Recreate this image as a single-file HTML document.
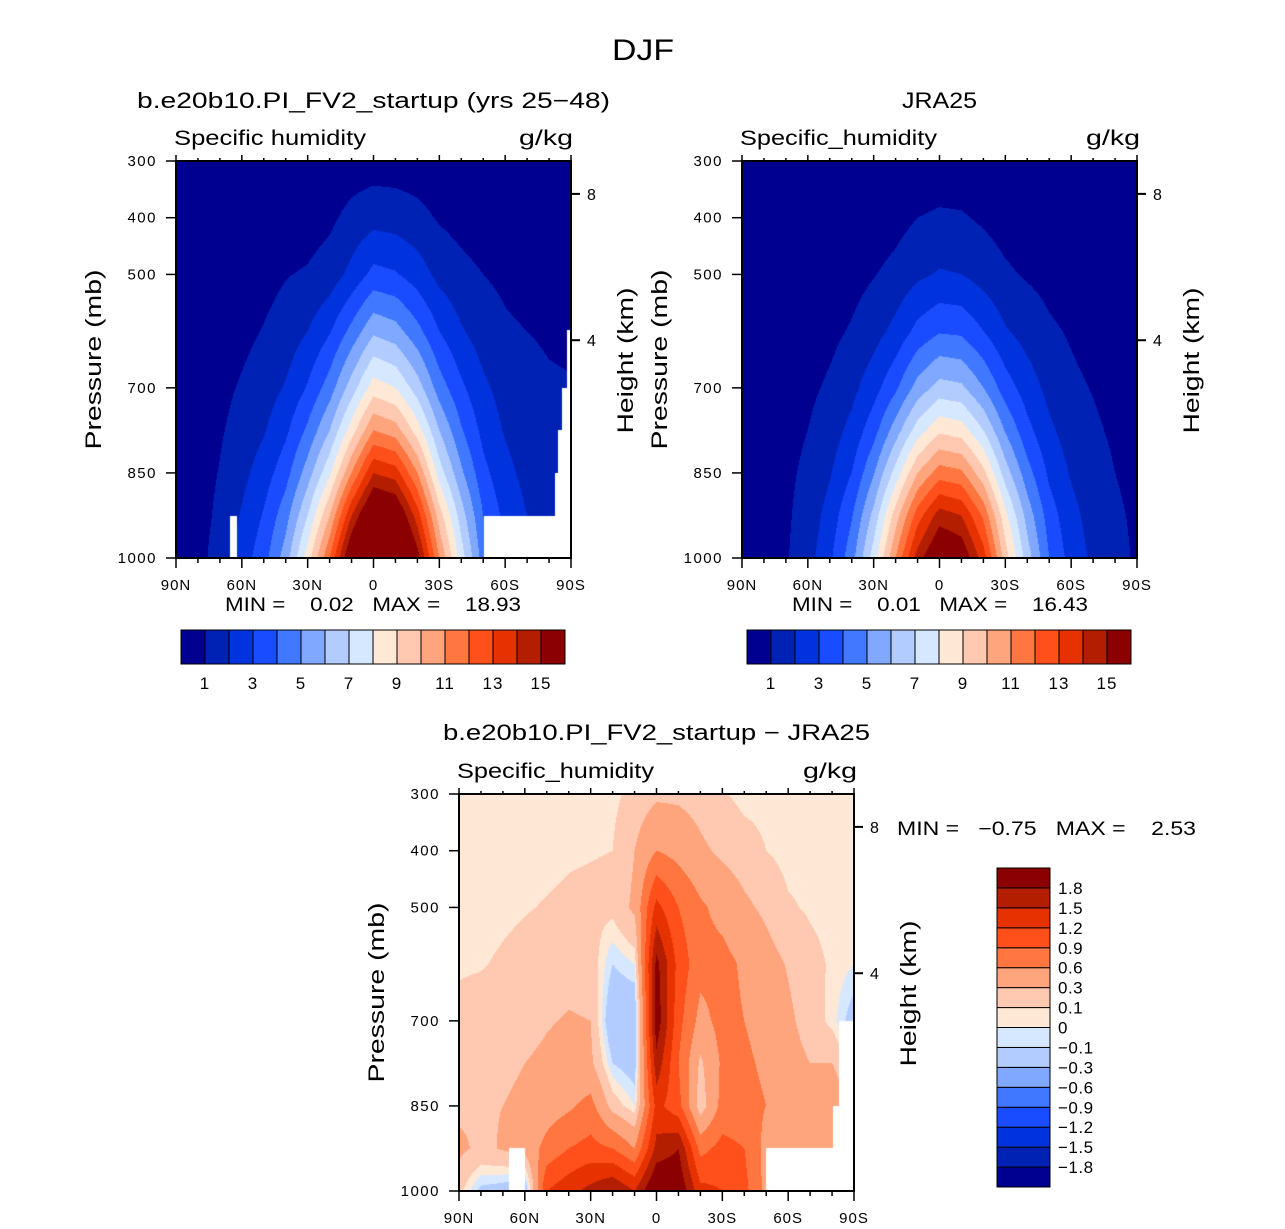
<!DOCTYPE html>
<html><head><meta charset="utf-8">
<style>
html,body{margin:0;padding:0;background:#fff;}
#wrap{position:relative;width:1285px;height:1229px;overflow:hidden;font-family:"Liberation Sans",sans-serif;}
canvas{position:absolute;}
svg{position:absolute;left:0;top:0;}
text{font-family:"Liberation Sans",sans-serif;fill:#000;}
</style></head>
<body>
<div id="wrap">
<canvas id="c1" width="395" height="397" style="left:176px;top:161px"></canvas>
<canvas id="c2" width="395" height="397" style="left:742px;top:161px"></canvas>
<canvas id="c3" width="395" height="397" style="left:459px;top:794px"></canvas>
<svg id="s" width="1285" height="1229">
<text x="612" y="60" font-size="30" textLength="62" lengthAdjust="spacingAndGlyphs">DJF</text>
<text x="137" y="108" font-size="22" textLength="473" lengthAdjust="spacingAndGlyphs">b.e20b10.PI_FV2_startup (yrs 25−48)</text>
<text x="902" y="108" font-size="22" textLength="75" lengthAdjust="spacingAndGlyphs">JRA25</text>
<text x="443" y="740" font-size="22" textLength="427" lengthAdjust="spacingAndGlyphs">b.e20b10.PI_FV2_startup − JRA25</text>
<text x="174" y="145" font-size="21" textLength="192" lengthAdjust="spacingAndGlyphs">Specific humidity</text>
<text x="519" y="145" font-size="21" textLength="54" lengthAdjust="spacingAndGlyphs">g/kg</text>
<text x="740" y="145" font-size="21" textLength="197" lengthAdjust="spacingAndGlyphs">Specific_humidity</text>
<text x="1086" y="145" font-size="21" textLength="54" lengthAdjust="spacingAndGlyphs">g/kg</text>
<text x="457" y="778" font-size="21" textLength="197" lengthAdjust="spacingAndGlyphs">Specific_humidity</text>
<text x="803" y="778" font-size="21" textLength="54" lengthAdjust="spacingAndGlyphs">g/kg</text>
<text x="225" y="611" font-size="19" xml:space="preserve" textLength="296" lengthAdjust="spacingAndGlyphs">MIN =    0.02   MAX =    18.93</text>
<text x="792" y="611" font-size="19" xml:space="preserve" textLength="296" lengthAdjust="spacingAndGlyphs">MIN =    0.01   MAX =    16.43</text>
<text x="897" y="835" font-size="19" xml:space="preserve" textLength="299" lengthAdjust="spacingAndGlyphs">MIN =   −0.75   MAX =    2.53</text>
</svg>
</div>
<script>
// ---- data ----
const LATS = [90,80,70,60,50,40,30,20,10,0,-10,-20,-30,-40,-50,-60,-70,-80,-90];
const PRES = [1000,925,850,775,700,600,500,400,300];
const COLORS = ['#000090','#0022B4','#0033DD','#1A4CFF','#4078FF','#80A8FF','#B3CCFF','#D5E8FF','#FFE8D6','#FFC8B0','#FFA57E','#FF7640','#FF4F1A','#E63200','#B31E00','#8B0000'];
const qLevels = [1,2,3,4,5,6,7,8,9,10,11,12,13,14,15];
const qLabels = ['1','3','5','7','9','11','13','15'];
const dLevels = [-1.8,-1.5,-1.2,-0.9,-0.6,-0.3,-0.1,0,0.1,0.3,0.6,0.9,1.2,1.5,1.8];
const dLabels = ['−1.8','−1.5','−1.2','−0.9','−0.6','−0.3','−0.1','0','0.1','0.3','0.6','0.9','1.2','1.5','1.8'];
const xTickLabels = ['90N','60N','30N','0','30S','60S','90S'];
const yTickValues = [300,400,500,700,850,1000];
const heightTicks = [{label:'8', p:358},{label:'4', p:616}];
// model specific humidity (g/kg) per latitude at PRES
const modelQ = [
[0.4,0.4,0.35,0.3,0.25,0.15,0.08,0.04,0.02],
[0.7,0.65,0.6,0.5,0.4,0.25,0.12,0.06,0.03],
[1.4,1.2,1.05,0.9,0.75,0.5,0.25,0.1,0.04],
[2.5,2.1,1.7,1.35,1.1,0.75,0.4,0.18,0.06],
[3.6,3.1,2.5,1.9,1.5,1.05,0.7,0.3,0.1],
[5.5,4.6,3.6,2.8,2.1,1.4,0.95,0.45,0.15],
[8.5,7,5.5,4.2,3.1,2.0,1.1,0.55,0.2],
[12,10,7.8,6,4.5,2.9,1.45,0.8,0.3],
[16.5,14,11,8.5,6.5,4.3,2.3,1.3,0.45],
[19,17,14,11,8.5,5.8,3.3,1.65,0.5],
[18.5,16.5,13.5,10.5,8,5.4,3.1,1.55,0.5],
[15.5,13.5,11,8.5,6.5,4.3,2.5,1.3,0.45],
[11,9.5,7.5,6,4.5,3,1.7,0.9,0.3],
[7.5,6.5,5.2,4.1,3.2,2.1,1.3,0.65,0.22],
[4.5,4,3.3,2.7,2.2,1.5,1.0,0.45,0.15],
[3,2.7,2.3,1.9,1.6,1.15,0.8,0.35,0.12],
[2.2,2.0,1.7,1.45,1.25,1.0,0.6,0.25,0.08],
[1.8,1.6,1.4,1.25,1.1,0.9,0.5,0.2,0.06],
[1.5,1.4,1.3,1.15,1.05,0.85,0.45,0.18,0.05]];
const jraQ = [
[0.3,0.3,0.28,0.25,0.2,0.12,0.06,0.03,0.01],
[0.5,0.48,0.45,0.4,0.33,0.22,0.1,0.05,0.02],
[0.9,0.85,0.8,0.7,0.55,0.35,0.18,0.08,0.03],
[1.6,1.4,1.2,1.0,0.8,0.5,0.25,0.1,0.04],
[2.8,2.4,1.9,1.5,1.15,0.75,0.4,0.15,0.05],
[4.6,3.9,3.0,2.3,1.7,1.1,0.65,0.25,0.08],
[7.5,6.3,4.9,3.6,2.6,1.6,0.95,0.4,0.12],
[11,9.5,7.4,5.5,3.8,2.3,1.3,0.65,0.2],
[14.5,12.5,10,7.5,5.4,3.3,1.8,1.0,0.3],
[16.5,14.5,11.5,8.8,6.4,3.9,2.1,1.15,0.35],
[16,14,11.2,8.5,6.2,3.8,2.0,1.1,0.33],
[13.5,11.8,9.3,7,5,3.0,1.6,0.85,0.25],
[9.5,8.3,6.5,4.9,3.5,2.1,1.15,0.6,0.18],
[6.5,5.6,4.4,3.3,2.5,1.6,0.9,0.45,0.12],
[4,3.5,2.8,2.2,1.7,1.15,0.7,0.3,0.08],
[2.6,2.3,1.9,1.5,1.2,0.9,0.5,0.2,0.06],
[1.8,1.6,1.4,1.15,0.95,0.65,0.35,0.15,0.05],
[1.25,1.15,1.0,0.85,0.7,0.5,0.25,0.1,0.03],
[0.9,0.85,0.75,0.6,0.5,0.35,0.18,0.08,0.02]];
const diffQ = [
[0.15,0.35,0.25,0.2,0.15,0.08,0.05,0.05,0.05],
[-0.15,0.25,0.28,0.22,0.17,0.09,0.05,0.05,0.05],
[-0.2,0.32,0.3,0.25,0.2,0.12,0.07,0.05,0.05],
[-0.3,0.4,0.35,0.3,0.22,0.15,0.09,0.05,0.05],
[1.2,0.7,0.45,0.35,0.28,0.2,0.11,0.06,0.05],
[1.4,0.9,0.55,0.4,0.32,0.22,0.13,0.08,0.05],
[1.6,1.0,0.7,0.35,0.3,0.2,0.14,0.09,0.05],
[1.8,0.9,0.2,-0.1,-0.3,-0.1,0.15,0.1,0.06],
[1.5,0.6,0.0,-0.2,-0.3,0.0,0.35,0.3,0.15],
[2.2,1.6,1.3,1.7,2.0,1.9,1.3,0.6,0.25],
[2.1,1.8,1.0,0.9,1.0,1.1,0.9,0.5,0.25],
[1.3,0.8,0.15,0.25,0.5,0.7,0.65,0.35,0.2],
[1.2,1.0,0.7,0.65,0.7,0.7,0.5,0.25,0.12],
[1.0,0.9,0.7,0.65,0.6,0.55,0.35,0.18,0.05],
[0.5,0.5,0.6,0.55,0.5,0.4,0.25,0.1,0.05],
[0.4,0.4,0.45,0.4,0.35,0.28,0.12,0.05,0.05],
[0.4,0.4,0.5,0.3,0.2,0.15,0.08,0.05,0.05],
[0.5,0.5,0.6,0.3,0.05,0.08,0.06,0.05,0.05],
[0.3,0.3,0.1,0.0,-0.2,0.0,0.05,0.05,0.05]];
// missing-data regions: [northLat, southLat, topPressure]
const modelMissing = [[65.4,62.2,926],[-50.4,-90,926],[-82.7,-90,850],[-84.1,-90,774],[-85.9,-90,700],[-88.2,-90,598]];
const jraMissing = [];
const diffMissing = [[67.3,60.0,925],[-50,-90,925],[-80.5,-90,850],[-83,-90,700]];

// ---- axis functions ----
function xOf(lat, x0, w){ return x0 + (90-lat)/180*w; }
function yOf(p, y0, h){ return y0 + (p-300)/700*h; }
function sample(grid, lat, p){
  let fi = (90-lat)/10; let i = Math.min(17, Math.max(0, Math.floor(fi))); let tx = fi - i;
  let j = 0; while (j < PRES.length-2 && p < PRES[j+1]) j++;
  let ty = (PRES[j]-p)/(PRES[j]-PRES[j+1]);
  const a = grid[i][j]*(1-ty) + grid[i][j+1]*ty;
  const b = grid[i+1][j]*(1-ty) + grid[i+1][j+1]*ty;
  return a*(1-tx) + b*tx;
}
function hex(c){ return [parseInt(c.substr(1,2),16),parseInt(c.substr(3,2),16),parseInt(c.substr(5,2),16)]; }
const RGB = COLORS.map(hex);
function drawField(id, grid, levels, missing){
  const cv = document.getElementById(id); const ctx = cv.getContext('2d');
  const W = cv.width, H = cv.height; const img = ctx.createImageData(W,H);
  for (let y=0;y<H;y++){ for (let x=0;x<W;x++){
    const lat = 90 - (x+0.5)/W*180; const p = 300 + (y+0.5)/H*700;
    let miss = false;
    for (const m of missing){ if (lat<=m[0] && lat>=m[1] && p>=m[2]) miss = true; }
    const k = (y*W+x)*4;
    if (miss){ img.data[k]=255;img.data[k+1]=255;img.data[k+2]=255;img.data[k+3]=255; continue; }
    const v = sample(grid, lat, p); let c = 0; while (c < levels.length && v >= levels[c]) c++;
    const col = RGB[c]; img.data[k]=col[0];img.data[k+1]=col[1];img.data[k+2]=col[2];img.data[k+3]=255;
  }}
  ctx.putImageData(img,0,0);
}
drawField('c1', modelQ, qLevels, modelMissing);
drawField('c2', jraQ, qLevels, jraMissing);
drawField('c3', diffQ, dLevels, diffMissing);

const svg = document.getElementById('s'); const NS = 'http://www.w3.org/2000/svg';
function mk(tag, attrs){ const e = document.createElementNS(NS, tag); for (const k in attrs) e.setAttribute(k, attrs[k]); svg.appendChild(e); return e; }
function panel(x0, y0, prefix){
  const w = 395, h = 397;
  let r = mk('rect', {x:x0, y:y0, width:w, height:h, fill:'none', stroke:'#000', 'stroke-width':2});
  
  
  for (let lat=90; lat>=-90; lat-=10){
    const x = xOf(lat, x0, w); const major = (lat % 30 === 0);
    let t = mk('line', {x1:x, x2:x, y1:y0+h, y2:y0+h+(major?10:5), stroke:'#000', 'stroke-width':1.5});
    
    
    let t2 = mk('line', {x1:x, x2:x, y1:y0, y2:y0-(major?6:3), stroke:'#000', 'stroke-width':1.5});
    
    
  }
  xTickLabels.forEach((lab, i) => {
    const lat = 90 - i*30;
    let t = mk('text', {x:xOf(lat, x0, w), y:y0+h+32, 'font-size':15, 'text-anchor':'middle', 'letter-spacing':1});
    t.textContent = lab;
    
    
  });
  yTickValues.forEach(p => {
    const y = yOf(p, y0, h);
    let t = mk('line', {x1:x0-10, x2:x0, y1:y, y2:y, stroke:'#000', 'stroke-width':1.5});
    
    
    let l = mk('text', {x:x0-19, y:y+5, 'font-size':15, 'text-anchor':'end', 'letter-spacing':1.5});
    l.textContent = p;
    
    
  });
  heightTicks.forEach(hk => {
    const y = yOf(hk.p, y0, h);
    let t = mk('line', {x1:x0+w, x2:x0+w+9, y1:y, y2:y, stroke:'#000', 'stroke-width':2});
    
    
    let l = mk('text', {x:x0+w+16, y:y+6, 'font-size':16});
    l.textContent = hk.label;
    
    
  });
  let yt = mk('text', {x:-90, y:0, 'font-size':22, textLength:180, lengthAdjust:'spacingAndGlyphs', transform:'translate('+(x0-75)+','+(y0+h/2)+') rotate(-90)'});
  yt.textContent = 'Pressure (mb)';
  
  
  let ht = mk('text', {x:-73, y:0, 'font-size':22, textLength:146, lengthAdjust:'spacingAndGlyphs', transform:'translate('+(x0+w+62)+','+(y0+h/2+1)+') rotate(-90)'});
  ht.textContent = 'Height (km)';
  
  
}
panel(176, 161, 'model');
panel(742, 161, 'jra25');
panel(459, 794, 'difference');

function hbar(x0, y0, prefix){
  const bw = 24, bh = 34;
  COLORS.forEach((c, i) => {
    let r = mk('rect', {x:x0+i*bw, y:y0, width:bw, height:bh, fill:c, stroke:'#000', 'stroke-width':1});
    
    
  });
  qLabels.forEach((lab, i) => {
    let t = mk('text', {x:x0+(1+2*i)*bw, y:y0+bh+25, 'font-size':17, 'text-anchor':'middle', 'letter-spacing':1});
    t.textContent = lab;
    
    
  });
}
hbar(181, 630, 'model');
hbar(747, 630, 'jra25');

(function vbar(){
  const x0 = 997, y0 = 868, bw = 53, bh = 319/16;
  COLORS.forEach((c, i) => {
    let r = mk('rect', {x:x0, y:y0+(15-i)*bh, width:bw, height:bh, fill:c, stroke:'#000', 'stroke-width':1});
    
    
  });
  dLabels.forEach((lab, i) => {
    let t = mk('text', {x:x0+61, y:y0+(15-i)*bh+6, 'font-size':17, 'letter-spacing':0.5});
    t.textContent = lab;
    
    
  });
})();
</script>
</body></html>
